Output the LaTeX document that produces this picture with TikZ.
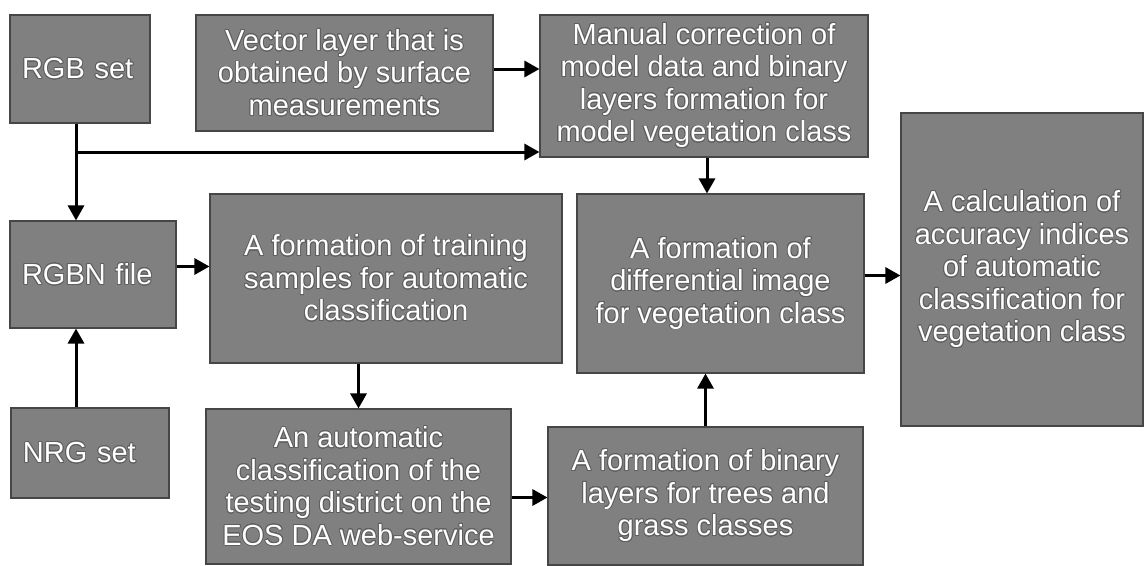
\documentclass[tikz,border=0pt]{standalone}
\usepackage{fontspec}
\setmainfont{Liberation Sans}
\usepackage{contour}
\contourlength{0.8pt}
\contournumber{24}
\usetikzlibrary{arrows.meta}
\definecolor{boxgray}{RGB}{128,128,128}
\definecolor{edgegray}{RGB}{70,70,70}
\definecolor{halo}{RGB}{95,95,95}
\newcommand\ct[1]{\contour{halo}{#1}}
\begin{document}
\begin{tikzpicture}[x=1pt,y=-1pt,
  box/.style={draw=edgegray, fill=boxgray, line width=1.1pt, text=white,
    font=\fontsize{29}{32.5}\selectfont, align=center, inner sep=0pt},
  leftbox/.style={box, align=left, inner xsep=12pt},
  arr/.style={line width=3pt, -{Triangle[length=15pt,width=16pt]}}]
\useasboundingbox (0,0) rectangle (1145,565);

% process boxes
\node[leftbox, text width=116pt, minimum height=108pt] (rgb) at (80,69) {\ct{RGB set}};
\node[box, minimum width=297pt, minimum height=116pt] (vec) at (344.5,73)
  {\ct{Vector layer that is}\\\ct{obtained by surface}\\\ct{measurements}};
\node[box, minimum width=328pt, minimum height=142pt] (man) at (704,86)
  {\ct{Manual correction of}\\\ct{model data and binary}\\\ct{layers formation for}\\\ct{model vegetation class}};
\node[leftbox, text width=142pt, minimum height=107pt] (rgbn) at (93,274.5) {\ct{RGBN file}};
\node[box, minimum width=352pt, minimum height=169pt] (train) at (386,278.5)
  {\ct{A formation of training}\\\ct{samples for automatic}\\\ct{classification}};
\node[box, minimum width=287pt, minimum height=179pt] (diff) at (720.5,283.5)
  {\ct{A formation of}\\\ct{differential image}\\\ct{for vegetation class}};
\node[box, minimum width=242pt, minimum height=313pt] (calc) at (1022,269.5)
  {\ct{A calculation of}\\\ct{accuracy indices}\\\ct{of automatic}\\\ct{classification for}\\\ct{vegetation class}};
\node[leftbox, text width=134pt, minimum height=90pt] (nrg) at (90,453) {\ct{NRG set}};
\node[box, minimum width=305pt, minimum height=155pt] (auto) at (358.5,486.5)
  {\ct{An automatic}\\\ct{classification of the}\\\ct{testing district on the}\\\ct{EOS DA web-service}};
\node[box, minimum width=315pt, minimum height=138pt] (bin) at (705.5,496)
  {\ct{A formation of binary}\\\ct{layers for trees and}\\\ct{grass classes}};

% branch point under the RGB set
\coordinate (j) at (76,152);

% connectors
\draw[arr] (rgb.south -| j) -- (rgbn.north -| j);
\draw[arr] (j) -- (j -| man.west);
\draw[arr] (nrg.north -| j) -- (rgbn.south -| j);
\draw[arr] ([yshift=4pt]vec.east) -- ([yshift=4pt]vec.east -| man.west);
\draw[arr] ([yshift=8pt]rgbn.east) -- ([yshift=8pt]rgbn.east -| train.west);
\draw[arr] ([xshift=3pt]man.south) -- ([xshift=3pt]man.south |- diff.north);
\draw[arr] (auto.north |- train.south) -- (auto.north);
\draw[arr] ([yshift=8pt]diff.east) -- ([yshift=8pt]diff.east -| calc.west);
\draw[arr] ([yshift=-11pt]auto.east) -- ([yshift=-11pt]auto.east -| bin.west);
\draw[arr] (bin.north) -- (bin.north |- diff.south);
\end{tikzpicture}
\end{document}
